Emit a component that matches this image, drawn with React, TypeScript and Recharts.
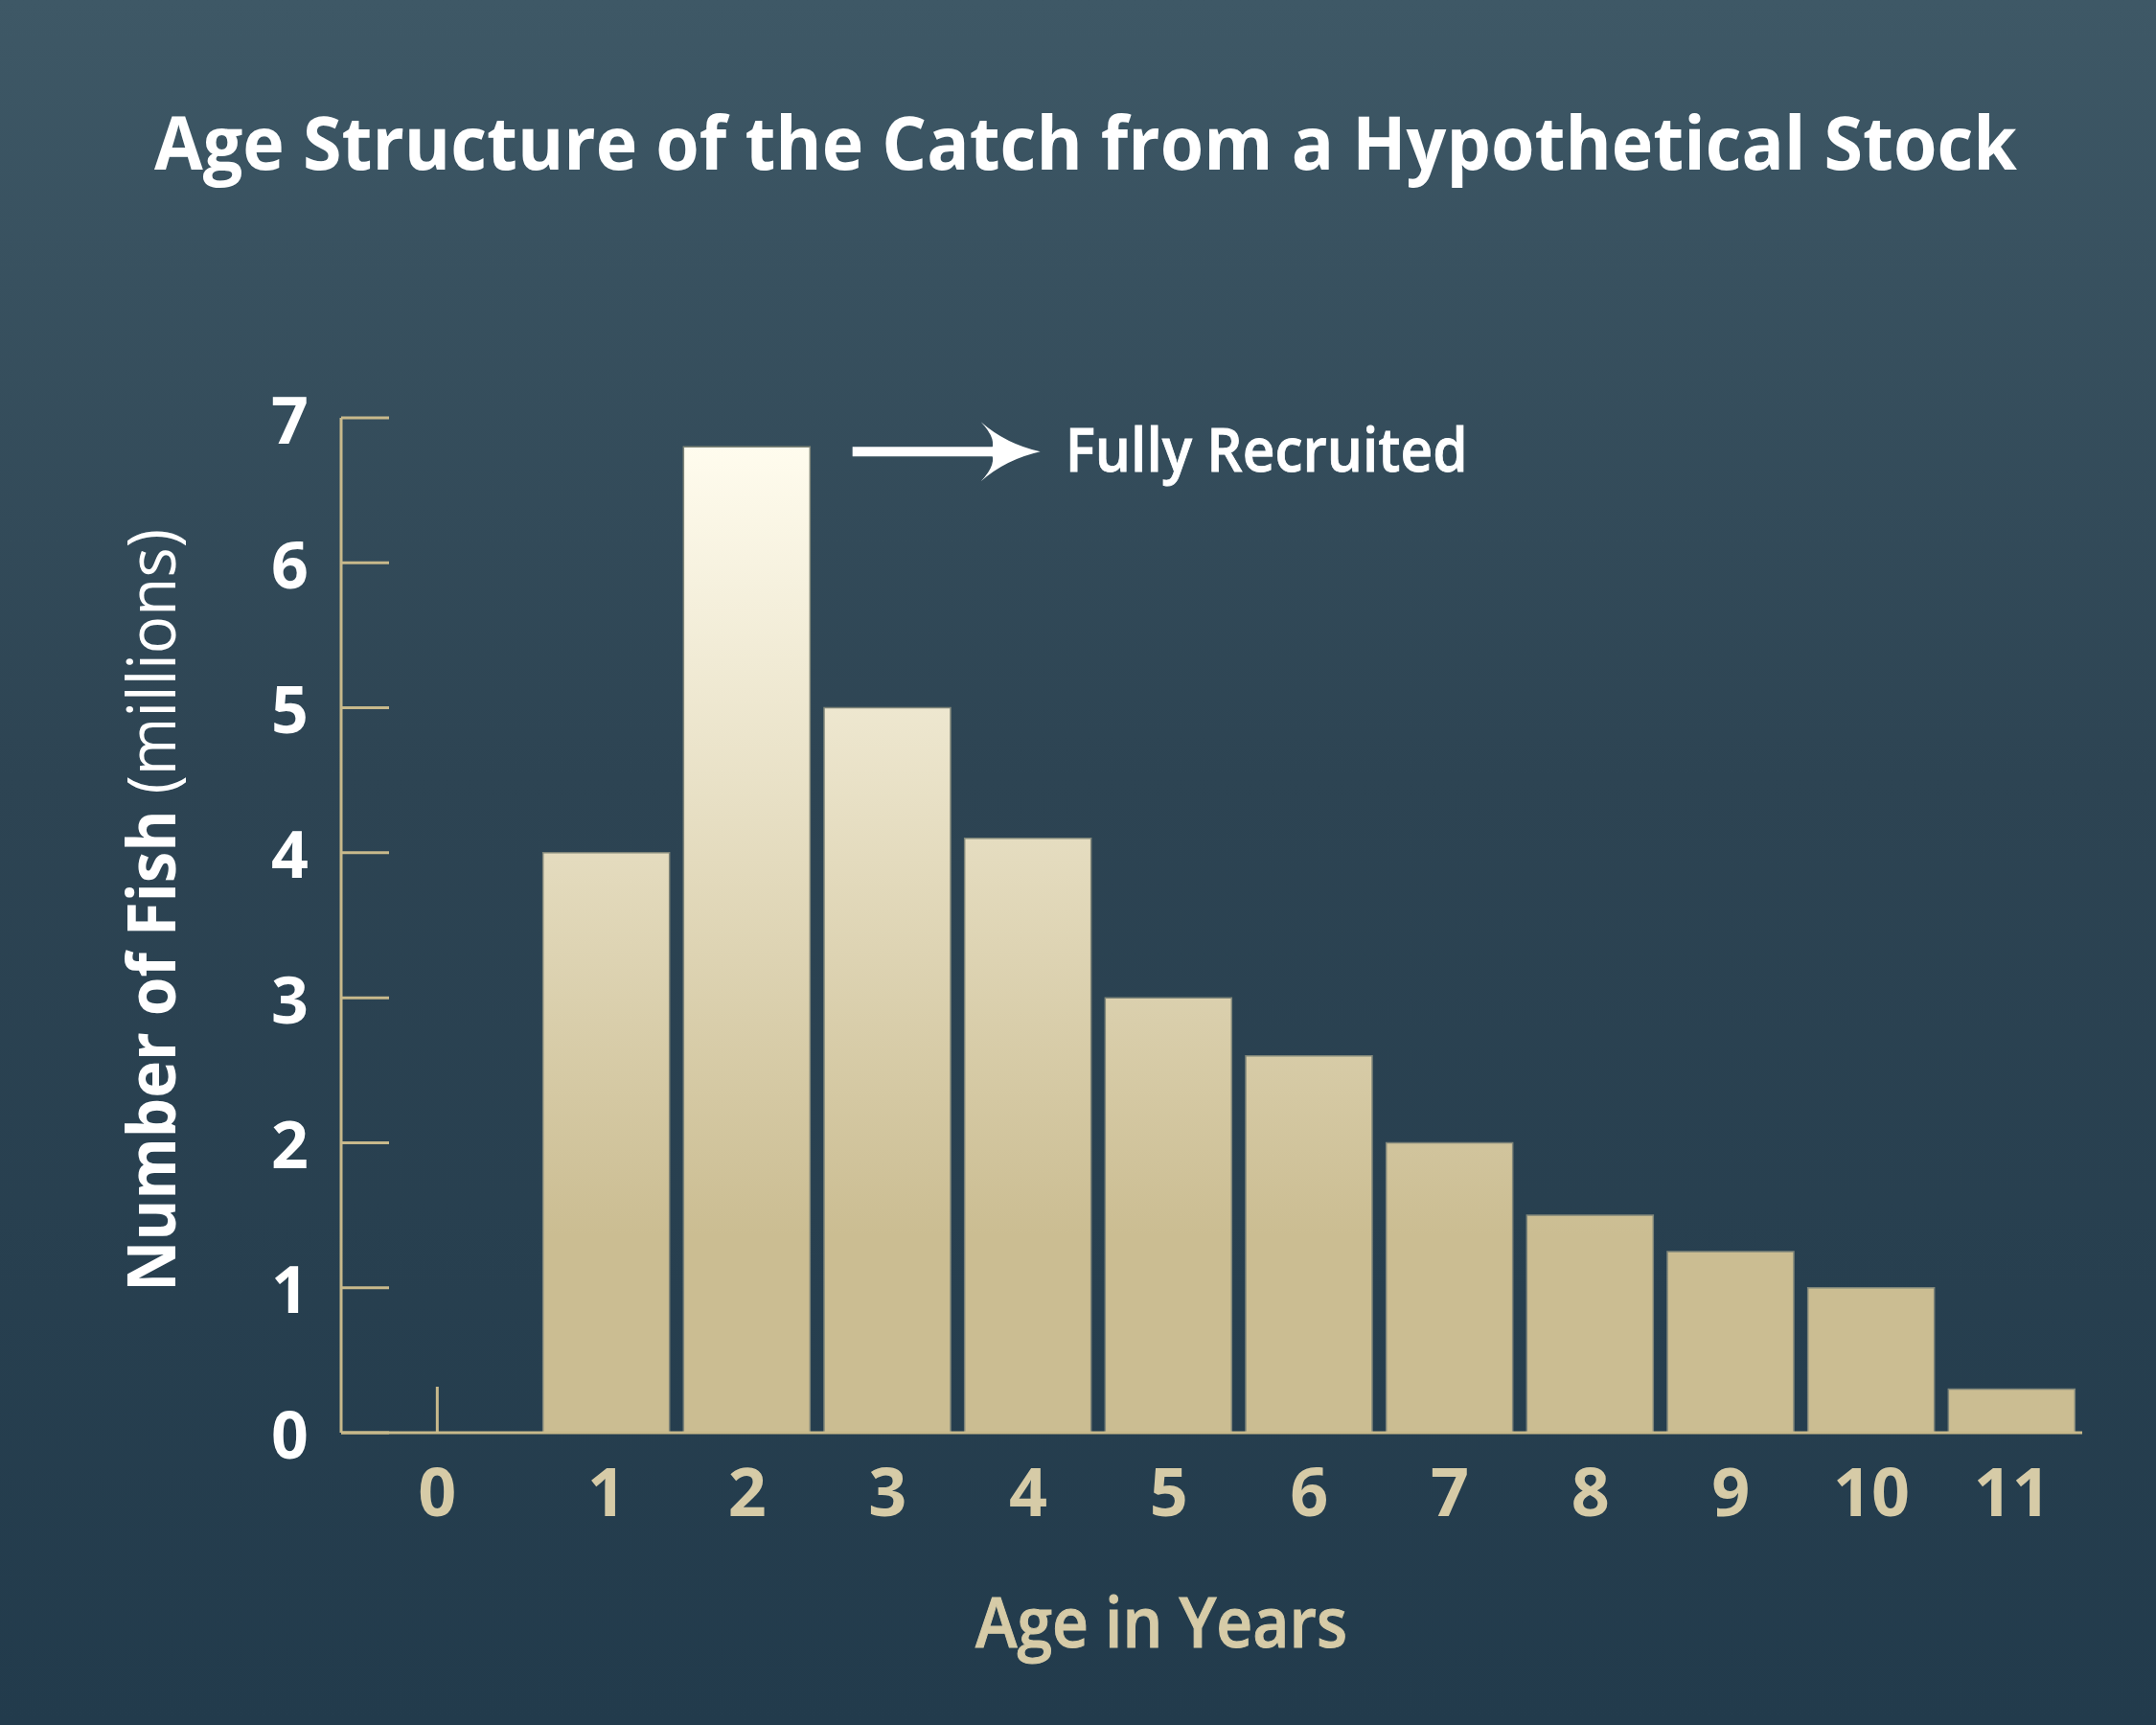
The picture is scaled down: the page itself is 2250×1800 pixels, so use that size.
import { Bar, BarChart, ReferenceDot, XAxis, YAxis } from 'recharts';

const ages = ['0', '1', '2', '3', '4', '5', '6', '7', '8', '9', '10', '11'];
const catchMillions = [0, 4, 6.8, 5, 4.1, 3, 2.6, 2, 1.5, 1.25, 1, 0.3];
const yTicks = [0, 1, 2, 3, 4, 5, 6, 7];

const data = ages.map((age, i) => ({ age, fish: catchMillions[i] }));

const tan = '#c8b98b';
const labelTan = '#d6cba7';
const font = '"Open Sans", "Noto Sans", sans-serif';

function YTick({ x, y, payload }: any) {
  return (
    <g>
      <line x1={x} x2={x + 50} y1={y} y2={y} stroke={tan} strokeWidth={3} />
      <text x={x - 34} y={y} textAnchor="end" dominantBaseline="central" fill="#fff"
        fontFamily={font} fontWeight={700} fontSize={68}>{payload.value}</text>
    </g>
  );
}

function XTick({ x, y, payload }: any) {
  const first = payload.value === '0';
  const cx = first ? x - 30 : x;
  return (
    <g>
      {first && <line x1={cx} x2={cx} y1={y - 48} y2={y} stroke={tan} strokeWidth={3} />}
      <text x={cx} y={y + 87} textAnchor="middle" fill={labelTan}
        fontFamily={font} fontWeight={700} fontSize={70}>{payload.value}</text>
    </g>
  );
}

// arrow + label hung off the top of the age-2 bar
function ArrowNote({ cx, cy }: any) {
  const x0 = cx + 110, ly = cy + 5;
  const tip = x0 + 196;
  return (
    <g>
      <rect x={x0} y={ly - 5} width={150} height={10} fill="#fff" />
      <path
        d={`M${tip},${ly} Q${tip - 36},${ly - 8} ${tip - 62},${ly - 31} Q${tip - 44},${ly - 12} ${tip - 52},${ly}
            Q${tip - 44},${ly + 12} ${tip - 62},${ly + 31} Q${tip - 36},${ly + 8} ${tip},${ly} Z`}
        fill="#fff"
      />
      <text x={cx + 332} y={cy + 26} fill="#fff" fontFamily={font} fontWeight={600} fontSize={63}
        stroke="#fff" strokeWidth={0.8}
        textLength={420} lengthAdjust="spacingAndGlyphs">Fully Recruited</text>
    </g>
  );
}

export default function App() {
  return (
    <div style={{
      position: 'absolute', left: 0, top: 0, width: 2250, height: 1800,
      background: 'linear-gradient(180deg, #3e5866 0%, #2d4453 45%, #223b4c 100%)',
    }}>
      <svg width={2250} height={1800} style={{ position: 'absolute', left: 0, top: 0 }}>
        <text x={1133} y={177} textAnchor="middle" fill="#fff" fontFamily={font} fontWeight={700}
          fontSize={77} textLength={1944} lengthAdjust="spacingAndGlyphs">
          Age Structure of the Catch from a Hypothetical Stock
        </text>
        <text x={1212} y={1719} textAnchor="middle" fill={labelTan} fontFamily={font} fontWeight={600}
          stroke={labelTan} strokeWidth={1}
          fontSize={72} textLength={388} lengthAdjust="spacingAndGlyphs">Age in Years</text>
        <text transform="translate(183,950) rotate(-90)" textAnchor="middle" fill="#fff" fontFamily={font}
          fontSize={70} textLength={796} lengthAdjust="spacingAndGlyphs">
          <tspan fontWeight={700}>Number of Fish </tspan>
          <tspan fontWeight={400}>(millions)</tspan>
        </text>
      </svg>
      <div style={{ position: 'absolute', left: 0, top: 0 }}>
        <BarChart width={2250} height={1800} data={data}
          margin={{ top: 436, right: 77, bottom: 205, left: 256 }}>
          <defs>
            <linearGradient id="barFill" gradientUnits="userSpaceOnUse" x1="0" y1="466" x2="0" y2="1495">
              <stop offset="0%" stopColor="#fffcee" />
              <stop offset="80%" stopColor="#cbbd92" />
              <stop offset="100%" stopColor="#cbbd92" />
            </linearGradient>
          </defs>
          <XAxis dataKey="age" height={100} padding={{ left: 57, right: 0 }} tickSize={0} tickMargin={0}
            axisLine={{ stroke: tan, strokeWidth: 3 }} tickLine={false} tick={<XTick />} interval={0} />
          <YAxis width={100} domain={[0, 7]} ticks={yTicks} tickSize={0} tickMargin={0}
            axisLine={{ stroke: tan, strokeWidth: 3 }} tickLine={false} tick={<YTick />} interval={0} />
          <Bar dataKey="fish" barSize={132} fill="url(#barFill)" stroke="#7f8579" strokeWidth={1.5}
            isAnimationActive={false} />
          <ReferenceDot x="2" y={6.8} ifOverflow="visible" shape={(p: any) => <ArrowNote {...p} />} />
        </BarChart>
      </div>
    </div>
  );
}
